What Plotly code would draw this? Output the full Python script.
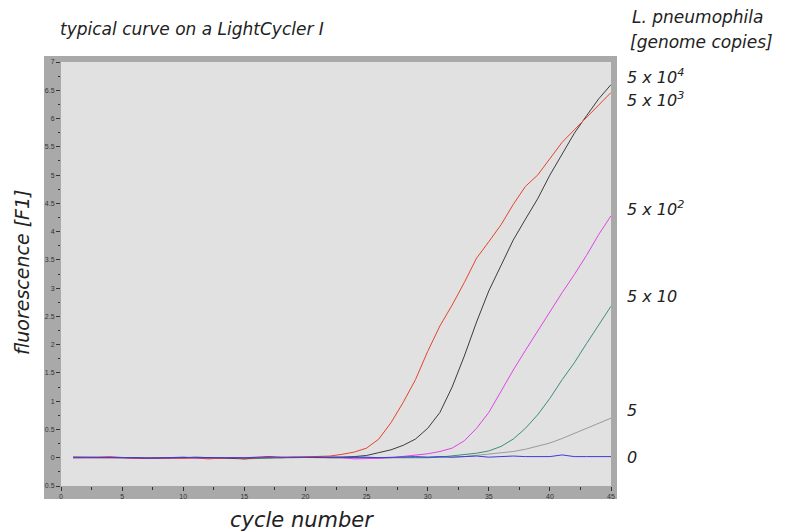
import plotly.graph_objects as go

cycles = list(range(1, 46))

s_5e4 = [0.01,0.01,0.00,0.00,0.01,0.00,-0.01,-0.01,0.00,0.00,
         0.01,0.00,0.00,-0.01,-0.02,0.00,0.00,0.01,0.00,0.01,
         0.00,0.00,0.01,0.02,0.04,0.09,0.14,0.22,0.33,0.52,
         0.80,1.25,1.80,2.40,2.95,3.40,3.85,4.22,4.58,5.00,
         5.38,5.74,6.05,6.35,6.60]
s_5e3 = [0.00,0.00,0.01,0.02,0.00,-0.01,-0.01,0.00,0.00,-0.01,
         0.00,-0.02,-0.01,0.00,-0.01,0.00,0.01,0.00,0.01,0.02,
         0.02,0.03,0.06,0.10,0.17,0.33,0.62,0.98,1.38,1.88,
         2.33,2.70,3.10,3.53,3.82,4.12,4.48,4.80,5.00,5.30,
         5.58,5.80,6.02,6.25,6.46]
s_5e2 = [0.00,0.00,0.00,0.01,0.00,-0.01,-0.01,-0.01,-0.01,0.00,
         -0.01,-0.01,0.00,-0.01,0.00,0.00,0.01,0.01,0.00,0.01,
         0.01,0.01,0.00,-0.02,-0.02,-0.01,0.00,0.02,0.04,0.07,
         0.11,0.17,0.30,0.52,0.80,1.18,1.55,1.90,2.24,2.60,
         2.92,3.24,3.58,3.95,4.28]
s_5e1 = [0.00,0.00,0.00,0.00,0.00,-0.01,0.00,0.00,-0.01,0.00,
         0.00,-0.01,0.00,0.00,-0.02,-0.01,0.00,0.00,0.00,0.01,
         0.01,0.00,0.00,-0.01,-0.01,-0.01,0.00,0.00,0.00,0.00,
         0.01,0.03,0.05,0.08,0.12,0.20,0.33,0.52,0.76,1.05,
         1.38,1.68,2.02,2.35,2.68]
s_5 = [0.00,0.00,0.00,0.01,0.00,0.00,0.00,-0.01,0.00,0.00,
       0.00,0.00,-0.01,0.00,-0.01,0.00,0.00,0.00,0.01,0.00,
       0.00,0.00,0.00,0.00,0.01,0.00,0.00,0.00,0.00,0.01,
       0.01,0.01,0.02,0.04,0.06,0.08,0.11,0.15,0.20,0.26,
       0.34,0.43,0.52,0.61,0.70]
s_0 = [0.01,0.01,0.00,0.01,0.00,0.00,-0.01,0.00,0.00,0.01,
       0.00,0.00,-0.01,0.00,0.00,0.01,0.02,0.01,0.01,0.02,
       0.02,0.01,0.01,0.02,0.01,0.00,0.01,0.01,0.02,0.01,
       0.02,0.01,0.02,0.03,0.01,0.02,0.03,0.02,0.02,0.02,
       0.05,0.02,0.02,0.02,0.02]

series_names = ["5 x 10<sup>4</sup>", "5 x 10<sup>3</sup>", "5 x 10<sup>2</sup>", "5 x 10", "5", "0"]
series_values = [s_5e4, s_5e3, s_5e2, s_5e1, s_5, s_0]
series_colors = ["#3c3c3c", "#e4442c", "#e044e4", "#3a8e7e", "#9a9a9a", "#3c3ce0"]
label_y_px = [76, 99, 208, 296, 410, 457]

y_tickvals = [-0.5, 0, 0.5, 1, 1.5, 2, 2.5, 3, 3.5, 4, 4.5, 5, 5.5, 6, 6.5, 7]
y_ticktext = ["0.5", "0", "0.5", "1", "1.5", "2", "2.5", "3", "3.5", "4", "4.5", "5", "5.5", "6", "6.5", "7"]
x_tickvals = [0, 5, 10, 15, 20, 25, 30, 35, 40, 45]

W, H = 787, 531
L, R, T, B = 61, 611, 62, 486

def px(x):
    return (x - L) / (R - L)

def py(y):
    return (B - y) / (B - T)

fig = go.Figure()
draw_order = [4, 3, 2, 0, 1, 5]
for i in draw_order:
    fig.add_trace(go.Scatter(x=cycles, y=series_values[i], mode="lines",
                             line=dict(color=series_colors[i], width=1),
                             name=series_names[i], showlegend=False))

font_main = "DejaVu Sans"
tick_font = dict(family="Liberation Sans", size=7, color="#333333")

fig.update_layout(
    width=W, height=H,
    margin=dict(l=L, r=W - R, t=T, b=H - B, pad=0),
    paper_bgcolor="white",
    plot_bgcolor="#e1e1e1",
    xaxis=dict(range=[0, 45], tickvals=x_tickvals, ticks="outside", ticklen=4,
               tickcolor="#333333", tickfont=tick_font, showgrid=False, zeroline=False,
               showline=False, minor=dict(dtick=2.5, tick0=0, ticks="outside", ticklen=3,
                                          tickcolor="#333333")),
    yaxis=dict(range=[-0.5, 7], tickvals=y_tickvals, ticktext=y_ticktext, ticks="outside",
               ticklen=4, tickcolor="#333333", tickfont=tick_font, showgrid=False,
               zeroline=False, showline=False,
               minor=dict(dtick=0.25, tick0=0, ticks="outside", ticklen=2,
                          tickcolor="#333333")),
)

# gray frame around plot area, then light inner plot area
fig.add_shape(type="rect", xref="paper", yref="paper", layer="below",
              x0=px(44), x1=px(617), y0=py(499), y1=py(56),
              fillcolor="#a9a9a9", line=dict(width=0))
fig.add_shape(type="rect", xref="paper", yref="paper", layer="below",
              x0=0, x1=1, y0=0, y1=1,
              fillcolor="#e1e1e1", line=dict(width=0))

head_font = dict(family=font_main, size=17, color="#222222")
lab_font = dict(family=font_main, size=16, color="#222222")
yaxis_font = dict(family=font_main, size=19, color="#222222")
xaxis_font = dict(family=font_main, size=21, color="#222222")

fig.add_annotation(xref="paper", yref="paper", x=px(58), y=py(29), xanchor="left",
                   yanchor="middle", text="<i>typical curve on a LightCycler I</i>",
                   showarrow=False, font=head_font)
fig.add_annotation(xref="paper", yref="paper", x=px(630), y=py(17), xanchor="left",
                   yanchor="middle", text="<i>L. pneumophila</i>",
                   showarrow=False, font=head_font)
fig.add_annotation(xref="paper", yref="paper", x=px(628), y=py(42), xanchor="left",
                   yanchor="middle", text="<i>[genome copies]</i>",
                   showarrow=False, font=head_font)
fig.add_annotation(xref="paper", yref="paper", x=px(22), y=py(272), xanchor="center",
                   yanchor="middle", text="<i>fluorescence [F1]</i>", textangle=-90,
                   showarrow=False, font=yaxis_font)
fig.add_annotation(xref="paper", yref="paper", x=px(302), y=py(520), xanchor="center",
                   yanchor="middle", text="<i>cycle number</i>",
                   showarrow=False, font=xaxis_font)

for name, ypix in zip(series_names, label_y_px):
    fig.add_annotation(xref="paper", yref="paper", x=px(625), y=py(ypix), xanchor="left",
                       yanchor="middle", text="<i>" + name + "</i>",
                       showarrow=False, font=lab_font)

fig.write_html("out.html", config={"displayModeBar": False},
               post_script="document.body.style.margin='0px';")
